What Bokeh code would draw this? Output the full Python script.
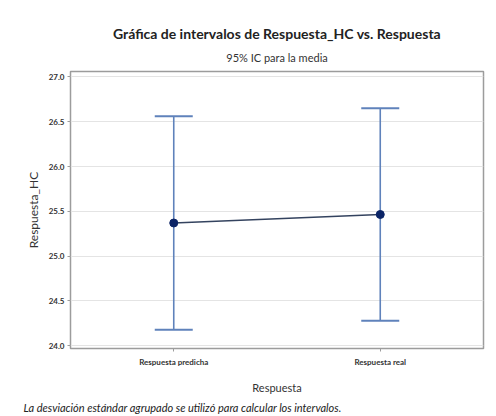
from bokeh.plotting import figure
from bokeh.models import Title, FactorRange, Range1d, ColumnDataSource, Whisker, TeeHead, FixedTicker, PrintfTickFormatter
from bokeh.embed import file_html
from bokeh.resources import INLINE

categories = ["Respuesta predicha", "Respuesta real"]
means = [25.37, 25.465]
lower = [24.18, 24.28]
upper = [26.56, 26.65]
y_ticks = [24.0, 24.5, 25.0, 25.5, 26.0, 26.5, 27.0]

FONT = "Lato"
BAR = "#5f82bb"
DOT = "#0b2466"

src = ColumnDataSource(dict(cat=categories, mean=means, lower=lower, upper=upper))

p = figure(width=496, height=416,
           x_range=FactorRange(*categories),
           y_range=Range1d(23.97, 27.06),
           output_backend="svg", toolbar_location=None,
           min_border_left=70, min_border_right=13, min_border_top=71, min_border_bottom=67)

p.title.text = "Gráfica de intervalos de Respuesta_HC vs. Respuesta"
p.title.align = "center"
p.title.offset = -16
p.title.text_font = FONT
p.title.text_font_style = "bold"
p.title.text_font_size = "14px"
p.title.text_color = "#222222"
p.title.standoff = 0

sub = Title(text="95% IC para la media", align="center", offset=-16,
            text_font=FONT, text_font_style="normal", text_font_size="11px",
            text_color="#333333", standoff=15)
p.add_layout(sub, "above")

foot = Title(text="La desviación estándar agrupado se utilizó para calcular los intervalos.",
             align="left", offset=-47, text_font=FONT, text_font_style="italic",
             text_font_size="11px", text_color="#222222", standoff=5)
p.add_layout(foot, "below")

p.outline_line_color = "#9c9c9c"
p.outline_line_width = 1.5
p.xgrid.grid_line_color = None
p.ygrid.grid_line_color = "#e4e4e4"
p.ygrid.ticker = FixedTicker(ticks=y_ticks)
p.yaxis.ticker = FixedTicker(ticks=y_ticks)
p.yaxis.formatter = PrintfTickFormatter(format="%.1f")

for ax in (p.xaxis[0], p.yaxis[0]):
    ax.axis_line_color = None
    ax.major_tick_line_color = "#9c9c9c"
    ax.major_tick_out = 3
    ax.major_tick_in = 0
    ax.minor_tick_line_color = None
    ax.major_label_text_font = FONT
    ax.major_label_text_font_style = "bold"
    ax.major_label_text_font_size = "8px"
    ax.major_label_text_color = "#333333"
    ax.axis_label_text_font = FONT
    ax.axis_label_text_font_style = "normal"
    ax.axis_label_text_color = "#333333"

p.yaxis.axis_label = "Respuesta_HC"
p.xaxis.axis_label = "Respuesta"
p.yaxis.axis_label_text_font_size = "12px"
p.xaxis.axis_label_text_font_size = "11px"
p.yaxis.major_label_standoff = 3
p.yaxis.axis_label_standoff = 5
p.xaxis.major_label_standoff = 5
p.xaxis.axis_label_standoff = 11

p.add_layout(Whisker(source=src, base="cat", upper="upper", lower="lower",
                     line_color=BAR, line_width=1.6,
                     upper_head=TeeHead(size=38, line_color=BAR, line_width=2),
                     lower_head=TeeHead(size=38, line_color=BAR, line_width=2)))
p.line("cat", "mean", source=src, line_color="#34435f", line_width=1.5)
p.scatter("cat", "mean", source=src, size=8, color=DOT)

open("out.html", "w").write(file_html(p, INLINE))
